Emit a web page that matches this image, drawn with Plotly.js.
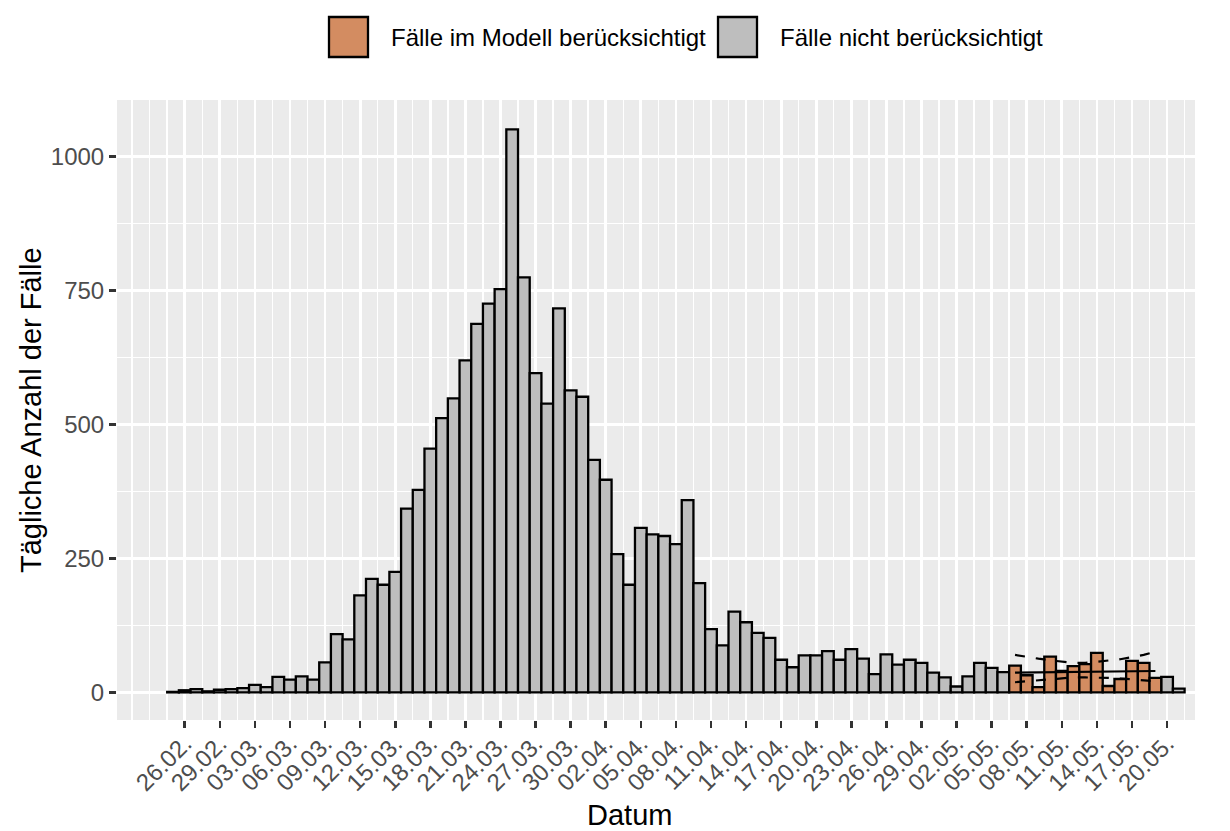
<!DOCTYPE html>
<html>
<head>
<meta charset="utf-8">
<script src="https://cdn.plot.ly/plotly-3.0.1.min.js"></script>
<style>
html,body{margin:0;padding:0;background:#ffffff;}
#chart{width:1230px;height:831px;}
</style>
</head>
<body>
<div id="chart"></div>
<script>
// ---- data ----
const dates = [
 '2020-02-25','2020-02-26','2020-02-27','2020-02-28','2020-02-29',
 '2020-03-01','2020-03-02','2020-03-03','2020-03-04','2020-03-05','2020-03-06','2020-03-07','2020-03-08','2020-03-09','2020-03-10',
 '2020-03-11','2020-03-12','2020-03-13','2020-03-14','2020-03-15','2020-03-16','2020-03-17','2020-03-18','2020-03-19','2020-03-20',
 '2020-03-21','2020-03-22','2020-03-23','2020-03-24','2020-03-25','2020-03-26','2020-03-27','2020-03-28','2020-03-29','2020-03-30','2020-03-31',
 '2020-04-01','2020-04-02','2020-04-03','2020-04-04','2020-04-05','2020-04-06','2020-04-07','2020-04-08','2020-04-09','2020-04-10',
 '2020-04-11','2020-04-12','2020-04-13','2020-04-14','2020-04-15','2020-04-16','2020-04-17','2020-04-18','2020-04-19','2020-04-20',
 '2020-04-21','2020-04-22','2020-04-23','2020-04-24','2020-04-25','2020-04-26','2020-04-27','2020-04-28','2020-04-29','2020-04-30',
 '2020-05-01','2020-05-02','2020-05-03','2020-05-04','2020-05-05','2020-05-06','2020-05-07','2020-05-08','2020-05-09','2020-05-10',
 '2020-05-11','2020-05-12','2020-05-13','2020-05-14','2020-05-15','2020-05-16','2020-05-17','2020-05-18','2020-05-19','2020-05-20','2020-05-21'
];
const cases = [
 1, 4, 6, 2, 5,
 6, 8, 14, 10, 29, 24, 30, 24, 56, 109,
 99, 181, 212, 201, 225, 343, 378, 455, 512, 549,
 620, 688, 726, 753, 1051, 775, 596, 539, 717, 564, 552,
 434, 397, 258, 201, 307, 295, 292, 277, 359, 204,
 118, 88, 151, 131, 111, 102, 61, 47, 69, 69,
 77, 61, 81, 63, 34, 71, 52, 61, 55, 37,
 28, 11, 30, 55, 46, 38, 50, 32, 10, 67,
 40, 49, 53, 74, 12, 25, 59, 55, 27, 29, 7
];
// dates whose cases were used in the model
const modelDates = [
 '2020-05-07','2020-05-08','2020-05-09','2020-05-10','2020-05-11','2020-05-12','2020-05-13',
 '2020-05-14','2020-05-15','2020-05-16','2020-05-17','2020-05-18','2020-05-19'
];
// model fit (solid) and its interval (dashed), one value per model date
const fitMean  = [37, 37.3, 37.7, 38, 38.3, 38.6, 38.9, 39.1, 39.3, 39.5, 39.7, 39.9, 40];
const fitUpper = [70, 66, 63, 60, 57, 55, 55, 57, 59, 62, 66, 70, 76];
const fitLower = [19, 21, 23, 25, 27, 28, 28, 28, 27, 26, 24, 23, 21];

// x-axis tick dates (labelled as dd.mm.)
const xTicks = [
 '2020-02-26','2020-02-29','2020-03-03','2020-03-06','2020-03-09','2020-03-12','2020-03-15','2020-03-18',
 '2020-03-21','2020-03-24','2020-03-27','2020-03-30','2020-04-02','2020-04-05','2020-04-08','2020-04-11',
 '2020-04-14','2020-04-17','2020-04-20','2020-04-23','2020-04-26','2020-04-29','2020-05-02','2020-05-05',
 '2020-05-08','2020-05-11','2020-05-14','2020-05-17','2020-05-20'
];
const yTicks = [0, 250, 500, 750, 1000];

const legendLabels = ['Fälle im Modell berücksichtigt', 'Fälle nicht berücksichtigt'];
const xTitle = 'Datum';
const yTitle = 'Tägliche Anzahl der Fälle';

// ---- styling ----
const ORANGE = '#D38C61';
const GREY = '#BEBEBE';
const FONT = 'Liberation Sans, Arial, Helvetica, sans-serif';
const W = 1230, H = 831;
const M = {l:117, r:35, t:100, b:111};
const PW = W - M.l - M.r, PH = H - M.t - M.b;
const px2x = p => (p - M.l) / PW;
const py2y = p => (H - M.b - p) / PH;

const modelSet = new Set(modelDates);
const greyX = [], greyY = [], orangeX = [], orangeY = [];
dates.forEach((d, i) => {
  if (modelSet.has(d)) { orangeX.push(d); orangeY.push(cases[i]); }
  else { greyX.push(d); greyY.push(cases[i]); }
});

const DAY = 86400000;
const barLine = {color:'#000000', width:2.3};

const traces = [
  {type:'bar', x:greyX, y:greyY, width:DAY, marker:{color:GREY, line:barLine}, name:legendLabels[1], hoverinfo:'x+y'},
  {type:'bar', x:orangeX, y:orangeY, width:DAY, marker:{color:ORANGE, line:barLine}, name:legendLabels[0], hoverinfo:'x+y'},
  {type:'scatter', mode:'lines', x:modelDates, y:fitUpper, line:{color:'#000000', width:2.2, dash:'10px,11px'}, hoverinfo:'skip'},
  {type:'scatter', mode:'lines', x:modelDates, y:fitLower, line:{color:'#000000', width:2.2, dash:'10px,11px'}, hoverinfo:'skip'},
  {type:'scatter', mode:'lines', x:modelDates, y:fitMean, line:{color:'#000000', width:2.2}, hoverinfo:'skip'}
];

// manual legend (ggplot-style large keys)
const keyW = 39, keyH = 40, keyTop = 17;
const legendItems = [
  {fill:ORANGE, x0:329, tx:389, text:legendLabels[0]},
  {fill:GREY, x0:718, tx:778, text:legendLabels[1]}
];
const shapes = legendItems.map(it => ({
  type:'rect', xref:'paper', yref:'paper',
  x0:px2x(it.x0), x1:px2x(it.x0+keyW), y0:py2y(keyTop+keyH), y1:py2y(keyTop),
  fillcolor:it.fill, line:{color:'#000000', width:2.3}
}));
const annotations = legendItems.map(it => ({
  xref:'paper', yref:'paper', x:px2x(it.tx), y:py2y(keyTop+keyH/2),
  xanchor:'left', yanchor:'middle', showarrow:false, text:it.text,
  font:{family:FONT, size:24, color:'#000000'}
}));
// axis titles placed like the reference
annotations.push({
  xref:'paper', yref:'paper', x:px2x(629), y:py2y(815),
  xanchor:'center', yanchor:'middle', showarrow:false, text:xTitle,
  font:{family:FONT, size:29, color:'#000000'}
});
annotations.push({
  xref:'paper', yref:'paper', x:px2x(31), y:py2y(410), textangle:-90,
  xanchor:'center', yanchor:'middle', showarrow:false, text:yTitle,
  font:{family:FONT, size:29, color:'#000000'}
});

const layout = {
  width:W, height:H, margin:M,
  paper_bgcolor:'#FFFFFF', plot_bgcolor:'#EBEBEB',
  font:{family:FONT, color:'#000000'},
  showlegend:false, barmode:'overlay', bargap:0,
  xaxis:{
    type:'date', range:['2020-02-20 05:00','2020-05-22 09:20'],
    tickmode:'array', tickvals:xTicks, tickformat:'%d.%m.', tickangle:-45,
    tickfont:{family:FONT, size:24, color:'#4D4D4D'}, ticklabelstandoff:-8,
    ticks:'outside', ticklen:7, tickwidth:2.6, tickcolor:'#333333',
    showgrid:true, gridcolor:'#FFFFFF', gridwidth:2.8, zeroline:false, showline:false,
    minor:{tickmode:'linear', tick0:'2020-02-26', dtick:1.5*DAY, showgrid:true, gridcolor:'#FFFFFF', gridwidth:1.4, ticks:''},
    fixedrange:true
  },
  yaxis:{
    range:[-51.5, 1106], tickmode:'array', tickvals:yTicks,
    tickfont:{family:FONT, size:24, color:'#4D4D4D'},
    ticks:'outside', ticklen:7, tickwidth:2.6, tickcolor:'#333333',
    showgrid:true, gridcolor:'#FFFFFF', gridwidth:2.8, zeroline:false, showline:false,
    minor:{tickmode:'linear', tick0:0, dtick:125, showgrid:true, gridcolor:'#FFFFFF', gridwidth:1.4, ticks:''},
    fixedrange:true
  },
  shapes:shapes, annotations:annotations
};

Plotly.newPlot('chart', traces, layout, {displayModeBar:false, staticPlot:true});
</script>
</body>
</html>
